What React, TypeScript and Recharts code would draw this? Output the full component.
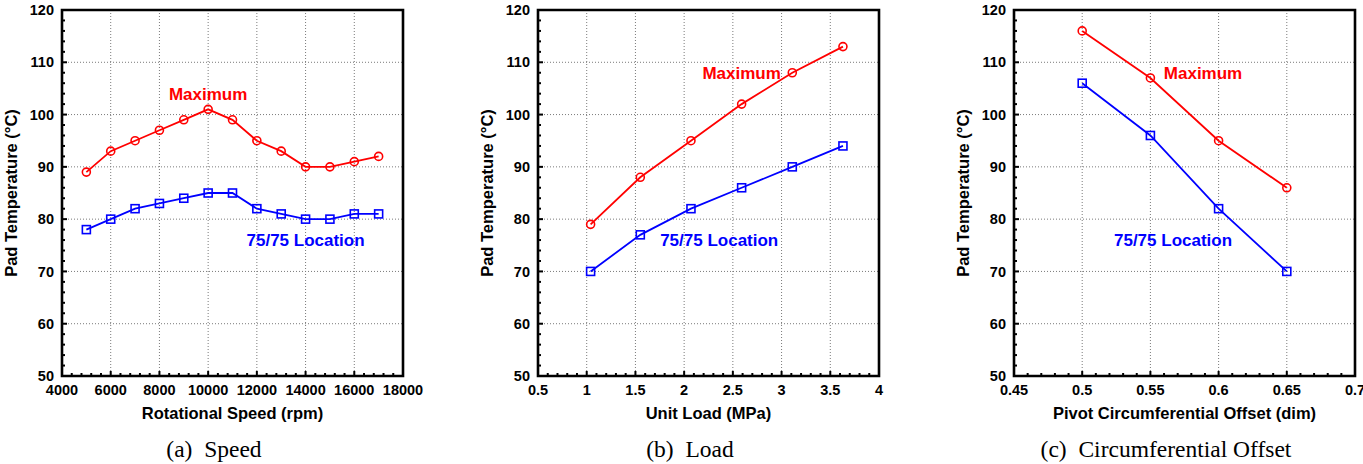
import React from "react";
import {
  LineChart,
  Line,
  XAxis,
  YAxis,
  CartesianGrid,
  ReferenceArea,
  ReferenceDot,
} from "recharts";

// values
const speedRpm = [5000, 6000, 7000, 8000, 9000, 10000, 11000, 12000, 13000, 14000, 15000, 16000, 17000];
const speedMax = [89, 93, 95, 97, 99, 101, 99, 95, 93, 90, 90, 91, 92];
const speedLoc = [78, 80, 82, 83, 84, 85, 85, 82, 81, 80, 80, 81, 81];

const loadMPa = [1.04, 1.55, 2.07, 2.59, 3.11, 3.63];
const loadMax = [79, 88, 95, 102, 108, 113];
const loadLoc = [70, 77, 82, 86, 90, 94];

const offsetDim = [0.5, 0.55, 0.6, 0.65];
const offsetMax = [116, 107, 95, 86];
const offsetLoc = [106, 96, 82, 70];

const tempTicks = [50, 60, 70, 80, 90, 100, 110, 120];
const speedTicks = [4000, 6000, 8000, 10000, 12000, 14000, 16000, 18000];
const loadTicks = [0.5, 1, 1.5, 2, 2.5, 3, 3.5, 4];
const loadTickLabels = ["0.5", "1", "1.5", "2", "2.5", "3", "3.5", "4"];
const offsetTicks = [0.45, 0.5, 0.55, 0.6, 0.65, 0.7];
const offsetTickLabels = ["0.45", "0.5", "0.55", "0.6", "0.65", "0.7"];

const RED = "#ff0000";
const BLUE = "#0000ff";
const SANS = "'Liberation Sans', Arial, Helvetica, sans-serif";

const W = 476;
const H = 464;

// 4 minor ticks between each pair of majors
function withMinors(majors: number[]) {
  const out: number[] = [];
  for (let i = 0; i < majors.length - 1; i++) {
    const step = (majors[i + 1] - majors[i]) / 5;
    for (let k = 0; k < 5; k++) out.push(majors[i] + k * step);
  }
  out.push(majors[majors.length - 1]);
  return out;
}

function makeTick(side: string, majors: number[], labels: string[]) {
  const span = majors[majors.length - 1] - majors[0];
  return (props: any) => {
    const { x, y, payload } = props;
    const mi = majors.findIndex((m) => Math.abs(m - payload.value) < span * 1e-6);
    const len = mi >= 0 ? 5 : 3;
    const st = { stroke: "#000", strokeWidth: 2 };
    const txt = { fontFamily: SANS, fontWeight: 700, fontSize: 14.5, fill: "#000" };
    if (side === "bottom") {
      return (
        <g>
          <line x1={x} x2={x} y1={y} y2={y - len} {...st} />
          {mi >= 0 && (
            <text x={x} y={y + 9} dy="0.71em" textAnchor="middle" {...txt}>
              {labels[mi]}
            </text>
          )}
        </g>
      );
    }
    if (side === "top") return <line x1={x} x2={x} y1={y} y2={y + len} {...st} />;
    if (side === "left") {
      return (
        <g>
          <line x1={x} x2={x + len} y1={y} y2={y} {...st} />
          {mi >= 0 && (
            <text x={x - 8} y={y} dy="0.355em" textAnchor="end" {...txt}>
              {labels[mi]}
            </text>
          )}
        </g>
      );
    }
    return <line x1={x} x2={x - len} y1={y} y2={y} {...st} />;
  };
}

const SquareDot = (props: any) => {
  const { cx, cy, index } = props;
  if (cx == null || cy == null) return null;
  return (
    <rect
      key={`sq-${index}`}
      x={cx - 4}
      y={cy - 4}
      width={8}
      height={8}
      fill="none"
      stroke={BLUE}
      strokeWidth={1.6}
    />
  );
};

interface PanelProps {
  xs: number[];
  maxVals: number[];
  locVals: number[];
  xTicks: number[];
  xTickLabels: string[];
  xTitle: string;
  caption: string;
  maxAt: [number, number];
  locAt: [number, number];
}

function Panel({ xs, maxVals, locVals, xTicks, xTickLabels, xTitle, caption, maxAt, locAt }: PanelProps) {
  const rows = xs.map((x, i) => ({ x, max: maxVals[i], loc: locVals[i] }));
  const xDomain = [xTicks[0], xTicks[xTicks.length - 1]];
  const yDomain = [tempTicks[0], tempTicks[tempTicks.length - 1]];
  const xAll = withMinors(xTicks);
  const yAll = withMinors(tempTicks);
  const yLabels = tempTicks.map(String);

  return (
    <div style={{ position: "relative", width: W, height: H, flex: "none" }}>
      <LineChart width={W} height={H} data={rows} margin={{ top: 10, right: 73, bottom: 0, left: 0 }}>
        <CartesianGrid
          stroke="#7a7a7a"
          strokeDasharray="1 2"
          verticalValues={xTicks.slice(1, -1)}
          horizontalValues={tempTicks.slice(1, -1)}
        />
        <XAxis
          dataKey="x"
          type="number"
          domain={xDomain}
          allowDataOverflow
          ticks={xAll}
          interval={0}
          height={88}
          tickSize={0}
          tickMargin={0}
          tickLine={false}
          axisLine={false}
          tick={makeTick("bottom", xTicks, xTickLabels)}
          label={{
            content: (p: any) => {
              const vb = p.viewBox;
              return (
                <text
                  x={vb.x + vb.width / 2}
                  y={vb.y + 31}
                  dy="0.71em"
                  textAnchor="middle"
                  fontFamily={SANS}
                  fontWeight={700}
                  fontSize={16.5}
                  fill="#000"
                >
                  {xTitle}
                </text>
              );
            },
          }}
        />
        <XAxis
          xAxisId="top"
          orientation="top"
          type="number"
          domain={xDomain}
          allowDataOverflow
          ticks={xAll}
          interval={0}
          height={0}
          tickSize={0}
          tickMargin={0}
          tickLine={false}
          axisLine={false}
          tick={makeTick("top", xTicks, xTickLabels)}
        />
        <YAxis
          type="number"
          domain={yDomain}
          allowDataOverflow
          ticks={yAll}
          interval={0}
          width={62}
          tickSize={0}
          tickMargin={0}
          tickLine={false}
          axisLine={false}
          tick={makeTick("left", tempTicks, yLabels)}
          label={{
            content: (p: any) => {
              const vb = p.viewBox;
              const cy = vb.y + vb.height / 2;
              return (
                <text
                  x={0}
                  y={0}
                  transform={`translate(${vb.x + 11},${cy}) rotate(-90)`}
                  dy="0.355em"
                  textAnchor="middle"
                  fontFamily={SANS}
                  fontWeight={700}
                  fontSize={16.5}
                  fill="#000"
                >
                  Pad Temperature (°C)
                </text>
              );
            },
          }}
        />
        <YAxis
          yAxisId="right"
          orientation="right"
          type="number"
          domain={yDomain}
          allowDataOverflow
          ticks={yAll}
          interval={0}
          width={0}
          tickSize={0}
          tickMargin={0}
          tickLine={false}
          axisLine={false}
          tick={makeTick("right", tempTicks, yLabels)}
        />
        <ReferenceArea
          x1={xDomain[0]}
          x2={xDomain[1]}
          y1={yDomain[0]}
          y2={yDomain[1]}
          fill="none"
          fillOpacity={0}
          stroke="#000"
          strokeWidth={2.6}
          ifOverflow="visible"
        />
        <Line
          dataKey="max"
          stroke={RED}
          strokeWidth={1.8}
          dot={{ r: 4, fill: "none", stroke: RED, strokeWidth: 1.6 }}
          isAnimationActive={false}
        />
        <Line
          dataKey="loc"
          stroke={BLUE}
          strokeWidth={1.8}
          dot={SquareDot}
          isAnimationActive={false}
        />
        <ReferenceDot
          x={maxAt[0]}
          y={maxAt[1]}
          r={0}
          fill="none"
          stroke="none"
          label={{ value: "Maximum", position: "center", fill: RED, fontSize: 17, fontWeight: 700, fontFamily: SANS }}
        />
        <ReferenceDot
          x={locAt[0]}
          y={locAt[1]}
          r={0}
          fill="none"
          stroke="none"
          label={{ value: "75/75 Location", position: "center", fill: BLUE, fontSize: 17, fontWeight: 700, fontFamily: SANS }}
        />
      </LineChart>
      <div
        style={{
          position: "absolute",
          left: 14,
          top: 438,
          width: 400,
          textAlign: "center",
          fontFamily: "'Liberation Serif', 'Times New Roman', serif",
          fontSize: 23.5,
          lineHeight: "23px",
          whiteSpace: "pre",
          color: "#000",
        }}
      >
        {caption}
      </div>
    </div>
  );
}

export default function App() {
  return (
    <div
      style={{
        position: "absolute",
        left: 0,
        top: 0,
        width: 1363,
        height: 464,
        overflow: "hidden",
        background: "#fff",
        display: "flex",
      }}
    >
      <Panel
        xs={speedRpm}
        maxVals={speedMax}
        locVals={speedLoc}
        xTicks={speedTicks}
        xTickLabels={speedTicks.map(String)}
        xTitle="Rotational Speed (rpm)"
        caption="(a)  Speed"
        maxAt={[10000, 104]}
        locAt={[14000, 76]}
      />
      <Panel
        xs={loadMPa}
        maxVals={loadMax}
        locVals={loadLoc}
        xTicks={loadTicks}
        xTickLabels={loadTickLabels}
        xTitle="Unit Load (MPa)"
        caption="(b)  Load"
        maxAt={[2.59, 108]}
        locAt={[2.36, 76]}
      />
      <Panel
        xs={offsetDim}
        maxVals={offsetMax}
        locVals={offsetLoc}
        xTicks={offsetTicks}
        xTickLabels={offsetTickLabels}
        xTitle="Pivot Circumferential Offset (dim)"
        caption="(c)  Circumferential Offset"
        maxAt={[0.5886, 108]}
        locAt={[0.5666, 76]}
      />
    </div>
  );
}
